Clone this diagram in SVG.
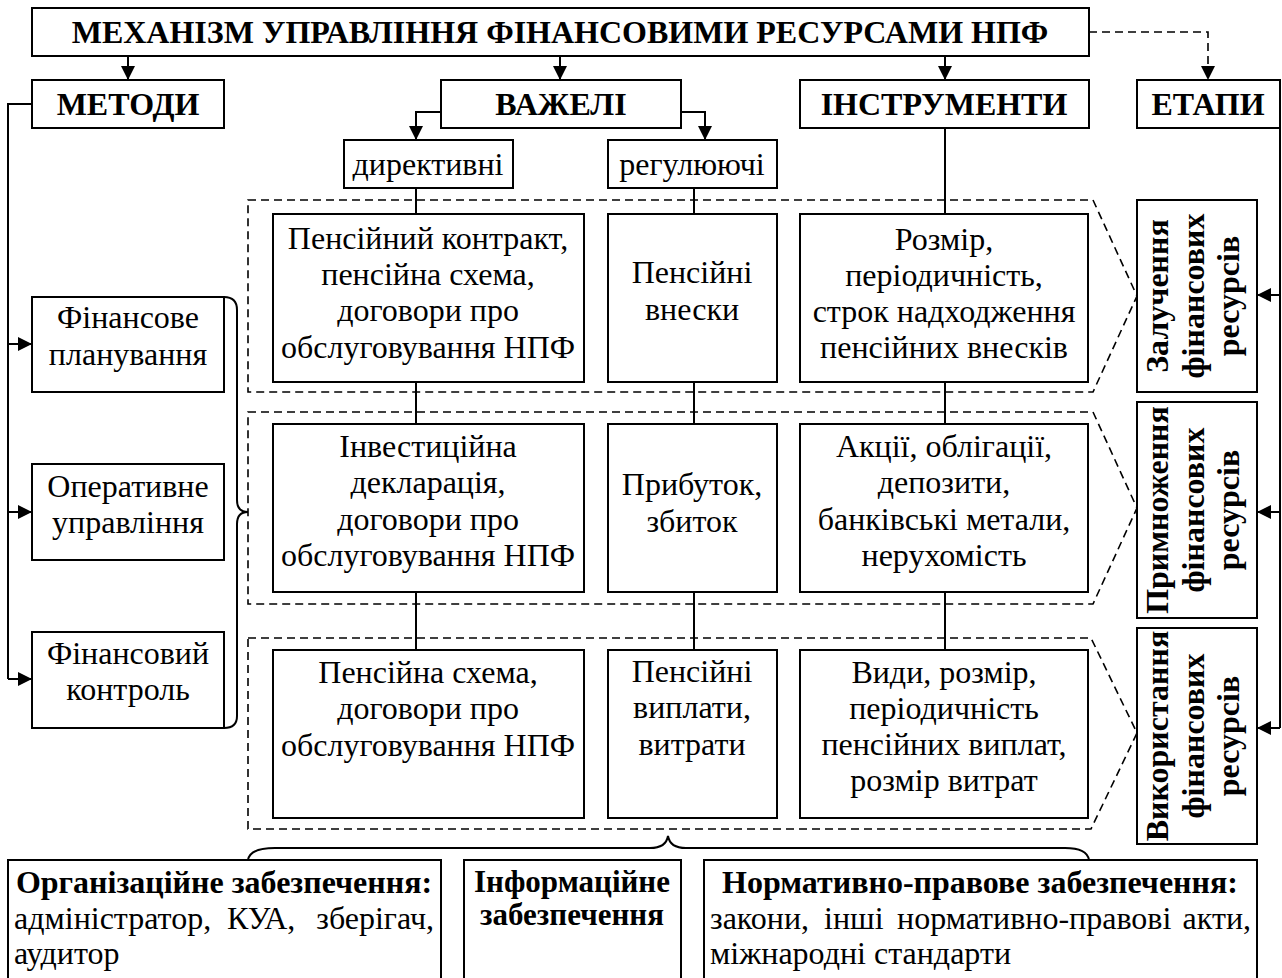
<svg xmlns="http://www.w3.org/2000/svg" width="1282" height="978" viewBox="0 0 1282 978">
<style>
.b{fill:#fff;stroke:#000;stroke-width:2}
.t{font-family:"Liberation Serif","Times New Roman",serif;font-size:32px;fill:#000;text-anchor:middle}
.bd{font-weight:bold}
.l{text-anchor:start}
.e{text-anchor:end}
.c{fill:none;stroke:#000;stroke-width:2}
.d{fill:none;stroke:#000;stroke-width:1.6;stroke-dasharray:8 5}
</style>
<defs>
<marker id="a" viewBox="0 0 14 14" refX="14" refY="7" markerWidth="14" markerHeight="14" markerUnits="userSpaceOnUse" orient="auto">
<path d="M0,0 L14,7 L0,14 Z" fill="#000"/>
</marker>
</defs>
<rect width="1282" height="978" fill="#fff"/>
<g id="bands">
<polygon class="d" points="248,200 1093,200 1137,296 1093,392 248,392"/>
<polygon class="d" points="248,412 1093,412 1137,508 1093,604 248,604"/>
<polygon class="d" points="248,638 1091,638 1137,733 1091,829 248,829"/>
</g>
<g id="connectors">
<line class="c" x1="128" y1="56" x2="128" y2="80" marker-end="url(#a)"/>
<line class="c" x1="560" y1="56" x2="560" y2="80" marker-end="url(#a)"/>
<line class="c" x1="945" y1="56" x2="945" y2="80" marker-end="url(#a)"/>
<path class="d" d="M1089,32 H1208 V80" marker-end="url(#a)"/>
<path class="c" d="M441,112 H416 V140" marker-end="url(#a)"/>
<path class="c" d="M681,112 H705 V140" marker-end="url(#a)"/>
<line class="c" x1="416" y1="188" x2="416" y2="650"/>
<line class="c" x1="694" y1="188" x2="694" y2="650"/>
<line class="c" x1="945" y1="128" x2="945" y2="650"/>
<path class="c" d="M32,104 H8 V679"/>
<line class="c" x1="8" y1="344" x2="32" y2="344" marker-end="url(#a)"/>
<line class="c" x1="8" y1="512" x2="32" y2="512" marker-end="url(#a)"/>
<line class="c" x1="8" y1="679" x2="32" y2="679" marker-end="url(#a)"/>
<line class="c" x1="1280" y1="104" x2="1280" y2="728"/>
<line class="c" x1="1280" y1="295" x2="1257" y2="295" marker-end="url(#a)"/>
<line class="c" x1="1280" y1="512" x2="1257" y2="512" marker-end="url(#a)"/>
<line class="c" x1="1280" y1="728" x2="1257" y2="728" marker-end="url(#a)"/>
<path class="c" d="M224,297 Q237,297 237,310 L237,500 Q237,512 248,512 Q237,512 237,524 L237,716 Q237,728 224,728"/>
<path class="c" d="M248,860 Q250,848 275,848 L650,848 Q666,848 668,836 Q670,848 686,848 L1065,848 Q1087,848 1089,860"/>
</g>
<g id="title"><rect class="b" x="32" y="8" width="1057" height="48"/><text class="t bd" x="560" y="43">МЕХАНІЗМ УПРАВЛІННЯ ФІНАНСОВИМИ РЕСУРСАМИ НПФ</text></g>
<g id="metody"><rect class="b" x="32" y="80" width="192" height="48"/><text class="t bd" x="128" y="115">МЕТОДИ</text></g>
<g id="vazheli"><rect class="b" x="441" y="80" width="240" height="48"/><text class="t bd" x="561" y="115">ВАЖЕЛІ</text></g>
<g id="instrumenty"><rect class="b" x="800" y="80" width="289" height="48"/><text class="t bd" x="944" y="115">ІНСТРУМЕНТИ</text></g>
<g id="etapy"><rect class="b" x="1137" y="80" width="143" height="48"/><text class="t bd" x="1208" y="115">ЕТАПИ</text></g>
<g id="dyrektyvni"><rect class="b" x="344" y="140" width="169" height="48"/><text class="t" x="428" y="175">директивні</text></g>
<g id="reguliuiuchi"><rect class="b" x="608" y="140" width="169" height="48"/><text class="t" x="692" y="175">регулюючі</text></g>

<g id="r1c1"><rect class="b" x="273" y="214" width="311" height="168"/><text class="t" x="428"><tspan x="428" y="249">Пенсійний контракт,</tspan><tspan x="428" y="285">пенсійна схема,</tspan><tspan x="428" y="321">договори про</tspan><tspan x="428" y="358">обслуговування НПФ</tspan></text></g>
<g id="r1c2"><rect class="b" x="608" y="214" width="169" height="168"/><text class="t" x="692"><tspan x="692" y="283">Пенсійні</tspan><tspan x="692" y="320">внески</tspan></text></g>
<g id="r1c3"><rect class="b" x="800" y="214" width="288" height="168"/><text class="t" x="944"><tspan x="944" y="250">Розмір,</tspan><tspan x="944" y="286">періодичність,</tspan><tspan x="944" y="322">строк надходження</tspan><tspan x="944" y="358">пенсійних внесків</tspan></text></g>

<g id="r2c1"><rect class="b" x="273" y="424" width="311" height="168"/><text class="t" x="428"><tspan x="428" y="457">Інвестиційна</tspan><tspan x="428" y="493">декларація,</tspan><tspan x="428" y="530">договори про</tspan><tspan x="428" y="566">обслуговування НПФ</tspan></text></g>
<g id="r2c2"><rect class="b" x="608" y="424" width="169" height="168"/><text class="t" x="692"><tspan x="692" y="495">Прибуток,</tspan><tspan x="692" y="532">збиток</tspan></text></g>
<g id="r2c3"><rect class="b" x="800" y="424" width="288" height="168"/><text class="t" x="944"><tspan x="944" y="457">Акції, облігації,</tspan><tspan x="944" y="493">депозити,</tspan><tspan x="944" y="530">банківські метали,</tspan><tspan x="944" y="566">нерухомість</tspan></text></g>

<g id="r3c1"><rect class="b" x="273" y="650" width="311" height="168"/><text class="t" x="428"><tspan x="428" y="683">Пенсійна схема,</tspan><tspan x="428" y="719">договори про</tspan><tspan x="428" y="756">обслуговування НПФ</tspan></text></g>
<g id="r3c2"><rect class="b" x="608" y="650" width="169" height="168"/><text class="t" x="692"><tspan x="692" y="682">Пенсійні</tspan><tspan x="692" y="718">виплати,</tspan><tspan x="692" y="755">витрати</tspan></text></g>
<g id="r3c3"><rect class="b" x="800" y="650" width="288" height="168"/><text class="t" x="944"><tspan x="944" y="683">Види, розмір,</tspan><tspan x="944" y="719">періодичність</tspan><tspan x="944" y="755">пенсійних виплат,</tspan><tspan x="944" y="791">розмір витрат</tspan></text></g>

<g id="planning"><rect class="b" x="32" y="297" width="192" height="95"/><text class="t" x="128"><tspan x="128" y="328">Фінансове</tspan><tspan x="128" y="365">планування</tspan></text></g>
<g id="operative"><rect class="b" x="32" y="464" width="192" height="96"/><text class="t" x="128"><tspan x="128" y="497">Оперативне</tspan><tspan x="128" y="533">управління</tspan></text></g>
<g id="control"><rect class="b" x="32" y="632" width="192" height="96"/><text class="t" x="128"><tspan x="128" y="664">Фінансовий</tspan><tspan x="128" y="700">контроль</tspan></text></g>

<g id="stage1"><rect class="b" x="1137" y="200" width="120" height="192"/><text class="t bd" transform="translate(1168,296) rotate(-90)" x="0" y="0">Залучення</text><text class="t bd" transform="translate(1204,296) rotate(-90)" x="0" y="0">фінансових</text><text class="t bd" transform="translate(1239,296) rotate(-90)" x="0" y="0">ресурсів</text></g>
<g id="stage2"><rect class="b" x="1137" y="402" width="120" height="216"/><text class="t bd" transform="translate(1168,510) rotate(-90)" x="0" y="0">Примноження</text><text class="t bd" transform="translate(1204,510) rotate(-90)" x="0" y="0">фінансових</text><text class="t bd" transform="translate(1239,510) rotate(-90)" x="0" y="0">ресурсів</text></g>
<g id="stage3"><rect class="b" x="1137" y="628" width="120" height="216"/><text class="t bd" transform="translate(1168,736) rotate(-90)" x="0" y="0">Використання</text><text class="t bd" transform="translate(1204,736) rotate(-90)" x="0" y="0">фінансових</text><text class="t bd" transform="translate(1239,736) rotate(-90)" x="0" y="0">ресурсів</text></g>

<g id="org"><rect class="b" x="8" y="860" width="433" height="122"/><text class="t bd" x="224" y="893">Організаційне забезпечення:</text><text class="t l" x="14" y="929">адміністратор,</text><text class="t l" x="227" y="929">КУА,</text><text class="t e" x="434" y="929">зберігач,</text><text class="t l" x="14" y="964">аудитор</text></g>
<g id="info"><rect class="b" x="464" y="860" width="217" height="122"/><text class="t bd" style="font-size:31px" x="572"><tspan x="572" y="892">Інформаційне</tspan><tspan x="572" y="925">забезпечення</tspan></text></g>
<g id="norm"><rect class="b" x="704" y="860" width="553" height="122"/><text class="t bd" x="980" y="893">Нормативно-правове забезпечення:</text><text class="t l" x="710" y="929">закони,</text><text class="t l" x="824" y="929">інші</text><text class="t l" x="897" y="929">нормативно-правові</text><text class="t e" x="1251" y="929">акти,</text><text class="t l" x="710" y="964">міжнародні стандарти</text></g>
</svg>
